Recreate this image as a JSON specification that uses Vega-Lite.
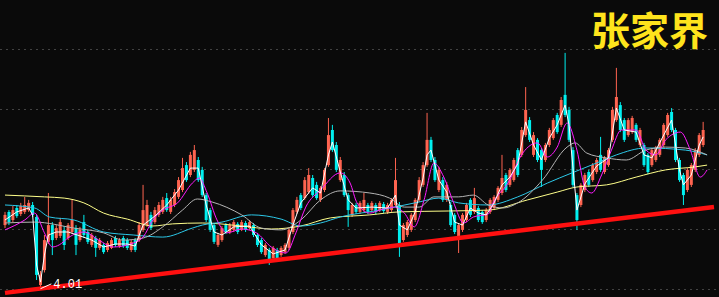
{
"$schema": "https://vega.github.io/schema/vega-lite/v6.json",
"width": 719, "height": 297, "padding": 0, "autosize": {"type": "none"},
"background": "#0a0a0a",
"config": {"view": {"stroke": null}},
"title": {"text": "张家界", "anchor": "end", "frame": "group", "orient": "top", "offset": 0, "font": "Noto Sans CJK SC", "fontSize": 39, "fontWeight": "bold", "color": "#ffe41c", "dx": -11, "dy": 92, "baseline": "bottom"},
"datasets": {
"candles": [
{"i":0,"o":6.13,"h":6.57,"l":6.03,"c":6.47},{"i":1,"o":6.57,"h":6.63,"l":6.13,"c":6.23},{"i":2,"o":6.30,"h":6.77,"l":6.23,"c":6.63},{"i":3,"o":6.70,"h":6.80,"l":6.37,"c":6.43},{"i":4,"o":6.50,"h":6.87,"l":6.43,"c":6.77},{"i":5,"o":6.57,"h":7.07,"l":6.50,"c":6.80},{"i":6,"o":6.63,"h":6.97,"l":6.57,"c":6.87},{"i":7,"o":6.80,"h":6.90,"l":6.40,"c":6.47},{"i":8,"o":6.40,"h":6.47,"l":4.30,"c":4.47},{"i":9,"o":4.13,"h":4.60,"l":4.01,"c":4.47},
{"i":10,"o":4.63,"h":5.80,"l":4.55,"c":5.63},{"i":11,"o":5.57,"h":7.20,"l":5.50,"c":6.13},{"i":12,"o":6.13,"h":6.23,"l":5.13,"c":5.63},{"i":13,"o":5.70,"h":6.13,"l":5.63,"c":6.03},{"i":14,"o":5.77,"h":6.37,"l":5.70,"c":6.23},{"i":15,"o":5.97,"h":6.10,"l":5.30,"c":5.47},{"i":16,"o":5.70,"h":6.20,"l":5.63,"c":6.13},{"i":17,"o":5.90,"h":6.97,"l":5.83,"c":6.30},{"i":18,"o":6.03,"h":6.13,"l":5.13,"c":5.47},{"i":19,"o":5.63,"h":6.07,"l":5.57,"c":5.97},
{"i":20,"o":6.23,"h":6.47,"l":5.70,"c":5.80},{"i":21,"o":5.90,"h":5.97,"l":5.50,"c":5.57},{"i":22,"o":5.47,"h":5.87,"l":5.40,"c":5.80},{"i":23,"o":5.70,"h":5.77,"l":5.07,"c":5.37},{"i":24,"o":5.37,"h":5.70,"l":5.30,"c":5.63},{"i":25,"o":5.47,"h":5.53,"l":5.17,"c":5.23},{"i":26,"o":5.30,"h":5.60,"l":5.23,"c":5.53},{"i":27,"o":5.37,"h":5.70,"l":5.33,"c":5.63},{"i":28,"o":5.70,"h":5.77,"l":5.40,"c":5.47},{"i":29,"o":5.43,"h":5.70,"l":5.37,"c":5.63},
{"i":30,"o":5.70,"h":5.77,"l":5.37,"c":5.43},{"i":31,"o":5.63,"h":5.70,"l":5.30,"c":5.37},{"i":32,"o":5.30,"h":5.63,"l":5.23,"c":5.57},{"i":33,"o":5.63,"h":5.70,"l":5.23,"c":5.30},{"i":34,"o":5.63,"h":6.23,"l":5.57,"c":6.13},{"i":35,"o":5.97,"h":7.47,"l":5.90,"c":6.63},{"i":36,"o":6.13,"h":6.97,"l":6.07,"c":6.80},{"i":37,"o":6.47,"h":6.57,"l":5.97,"c":6.03},{"i":38,"o":6.23,"h":6.73,"l":6.17,"c":6.63},{"i":39,"o":6.47,"h":6.90,"l":6.40,"c":6.80},
{"i":40,"o":6.57,"h":7.07,"l":6.50,"c":6.97},{"i":41,"o":7.03,"h":7.20,"l":6.57,"c":6.63},{"i":42,"o":6.57,"h":7.07,"l":6.50,"c":6.97},{"i":43,"o":6.80,"h":7.33,"l":6.73,"c":7.23},{"i":44,"o":7.07,"h":7.73,"l":7.00,"c":7.63},{"i":45,"o":7.30,"h":8.37,"l":7.23,"c":8.03},{"i":46,"o":8.13,"h":8.23,"l":7.57,"c":7.63},{"i":47,"o":7.80,"h":8.57,"l":7.73,"c":8.47},{"i":48,"o":7.97,"h":8.80,"l":7.90,"c":8.63},{"i":49,"o":8.30,"h":8.40,"l":7.57,"c":7.63},
{"i":50,"o":7.97,"h":8.07,"l":7.07,"c":7.13},{"i":51,"o":7.13,"h":7.20,"l":6.23,"c":6.30},{"i":52,"o":6.63,"h":6.70,"l":5.90,"c":5.97},{"i":53,"o":6.13,"h":6.20,"l":5.50,"c":5.57},{"i":54,"o":5.47,"h":5.87,"l":5.40,"c":5.80},{"i":55,"o":5.63,"h":6.10,"l":5.57,"c":6.03},{"i":56,"o":6.13,"h":6.20,"l":5.83,"c":5.90},{"i":57,"o":5.90,"h":6.20,"l":5.83,"c":6.13},{"i":58,"o":5.97,"h":6.30,"l":5.90,"c":6.23},{"i":59,"o":6.17,"h":6.23,"l":5.83,"c":5.90},
{"i":60,"o":5.97,"h":6.30,"l":5.93,"c":6.23},{"i":61,"o":6.20,"h":6.27,"l":5.90,"c":5.97},{"i":62,"o":6.03,"h":6.30,"l":5.97,"c":6.23},{"i":63,"o":6.13,"h":6.20,"l":5.73,"c":5.80},{"i":64,"o":5.80,"h":5.87,"l":5.40,"c":5.47},{"i":65,"o":5.63,"h":5.70,"l":5.17,"c":5.23},{"i":66,"o":5.13,"h":5.53,"l":5.07,"c":5.47},{"i":67,"o":5.30,"h":5.37,"l":4.80,"c":4.90},{"i":68,"o":5.03,"h":5.43,"l":4.97,"c":5.37},{"i":69,"o":5.30,"h":5.37,"l":4.97,"c":5.03},
{"i":70,"o":5.13,"h":5.43,"l":5.07,"c":5.37},{"i":71,"o":5.23,"h":5.53,"l":5.17,"c":5.47},{"i":72,"o":5.37,"h":6.03,"l":5.30,"c":5.97},{"i":73,"o":5.90,"h":6.70,"l":5.83,"c":6.63},{"i":74,"o":6.57,"h":7.07,"l":6.50,"c":6.97},{"i":75,"o":7.13,"h":7.20,"l":6.63,"c":6.70},{"i":76,"o":7.03,"h":7.73,"l":6.97,"c":7.63},{"i":77,"o":7.23,"h":8.03,"l":7.17,"c":7.80},{"i":78,"o":7.70,"h":7.80,"l":7.07,"c":7.13},{"i":79,"o":7.47,"h":7.57,"l":6.97,"c":7.03},
{"i":80,"o":6.97,"h":7.43,"l":6.90,"c":7.37},{"i":81,"o":7.30,"h":8.03,"l":7.23,"c":7.97},{"i":82,"o":8.13,"h":9.70,"l":8.07,"c":9.13},{"i":83,"o":9.30,"h":9.47,"l":8.57,"c":8.63},{"i":84,"o":8.80,"h":8.90,"l":7.90,"c":7.97},{"i":85,"o":7.63,"h":8.40,"l":7.57,"c":8.30},{"i":86,"o":7.80,"h":7.90,"l":7.07,"c":7.13},{"i":87,"o":7.13,"h":7.20,"l":6.07,"c":6.63},{"i":88,"o":6.47,"h":6.87,"l":6.40,"c":6.80},{"i":89,"o":6.80,"h":6.87,"l":6.50,"c":6.57},
{"i":90,"o":6.57,"h":6.93,"l":6.50,"c":6.87},{"i":91,"o":6.63,"h":7.20,"l":6.57,"c":6.97},{"i":92,"o":6.80,"h":6.87,"l":6.50,"c":6.57},{"i":93,"o":6.63,"h":6.93,"l":6.57,"c":6.87},{"i":94,"o":6.80,"h":6.87,"l":6.50,"c":6.57},{"i":95,"o":6.63,"h":6.93,"l":6.57,"c":6.87},{"i":96,"o":6.83,"h":6.90,"l":6.53,"c":6.60},{"i":97,"o":6.57,"h":6.87,"l":6.50,"c":6.80},{"i":98,"o":6.63,"h":7.03,"l":6.57,"c":6.97},{"i":99,"o":6.80,"h":8.37,"l":6.73,"c":7.63},
{"i":100,"o":6.80,"h":6.90,"l":5.07,"c":5.47},{"i":101,"o":5.63,"h":6.20,"l":5.57,"c":6.13},{"i":102,"o":5.80,"h":6.30,"l":5.73,"c":6.23},{"i":103,"o":5.97,"h":6.53,"l":5.90,"c":6.47},{"i":104,"o":6.30,"h":7.03,"l":6.23,"c":6.97},{"i":105,"o":6.97,"h":7.73,"l":6.90,"c":7.63},{"i":106,"o":7.47,"h":8.23,"l":7.40,"c":8.13},{"i":107,"o":8.13,"h":9.87,"l":8.07,"c":8.97},{"i":108,"o":8.97,"h":9.07,"l":8.23,"c":8.30},{"i":109,"o":8.30,"h":8.40,"l":7.57,"c":7.63},
{"i":110,"o":7.30,"h":8.07,"l":7.23,"c":7.97},{"i":111,"o":7.63,"h":7.73,"l":6.90,"c":6.97},{"i":112,"o":6.97,"h":7.57,"l":6.90,"c":7.47},{"i":113,"o":6.80,"h":6.90,"l":6.07,"c":6.13},{"i":114,"o":6.47,"h":6.53,"l":5.83,"c":5.90},{"i":115,"o":5.73,"h":6.20,"l":5.20,"c":6.13},{"i":116,"o":5.97,"h":6.53,"l":5.90,"c":6.47},{"i":117,"o":6.30,"h":6.87,"l":6.23,"c":6.80},{"i":118,"o":6.97,"h":7.03,"l":6.40,"c":6.47},{"i":119,"o":6.57,"h":7.37,"l":6.50,"c":7.03},
{"i":120,"o":6.70,"h":6.77,"l":6.23,"c":6.30},{"i":121,"o":6.57,"h":6.63,"l":6.17,"c":6.23},{"i":122,"o":6.30,"h":6.70,"l":6.23,"c":6.63},{"i":123,"o":6.57,"h":7.03,"l":6.50,"c":6.97},{"i":124,"o":6.70,"h":7.13,"l":6.63,"c":7.07},{"i":125,"o":6.97,"h":7.43,"l":6.90,"c":7.37},{"i":126,"o":7.20,"h":8.47,"l":7.13,"c":7.70},{"i":127,"o":7.80,"h":7.87,"l":7.23,"c":7.30},{"i":128,"o":7.47,"h":8.03,"l":7.40,"c":7.97},{"i":129,"o":7.63,"h":8.37,"l":7.57,"c":8.30},
{"i":130,"o":8.63,"h":8.70,"l":7.73,"c":7.80},{"i":131,"o":8.47,"h":9.40,"l":8.40,"c":9.30},{"i":132,"o":9.13,"h":10.73,"l":9.07,"c":9.97},{"i":133,"o":9.63,"h":9.73,"l":8.90,"c":8.97},{"i":134,"o":8.47,"h":9.23,"l":8.40,"c":9.13},{"i":135,"o":8.97,"h":9.03,"l":8.23,"c":8.30},{"i":136,"o":8.63,"h":8.70,"l":7.40,"c":7.97},{"i":137,"o":8.30,"h":8.87,"l":8.23,"c":8.80},{"i":138,"o":8.80,"h":9.37,"l":8.73,"c":9.30},{"i":139,"o":9.03,"h":9.70,"l":8.97,"c":9.63},
{"i":140,"o":9.80,"h":9.87,"l":9.17,"c":9.23},{"i":141,"o":9.47,"h":10.40,"l":9.40,"c":10.30},{"i":142,"o":10.47,"h":11.87,"l":9.73,"c":9.80},{"i":143,"o":9.97,"h":10.07,"l":8.90,"c":8.97},{"i":144,"o":8.63,"h":8.73,"l":7.40,"c":7.47},{"i":145,"o":7.13,"h":7.20,"l":5.97,"c":6.30},{"i":146,"o":6.80,"h":7.53,"l":6.73,"c":7.47},{"i":147,"o":7.30,"h":7.87,"l":7.23,"c":7.80},{"i":148,"o":7.90,"h":7.97,"l":7.40,"c":7.47},{"i":149,"o":7.63,"h":8.20,"l":7.57,"c":8.13},
{"i":150,"o":7.90,"h":8.37,"l":7.83,"c":8.30},{"i":151,"o":8.47,"h":9.07,"l":7.90,"c":7.97},{"i":152,"o":7.90,"h":8.43,"l":7.83,"c":8.37},{"i":153,"o":8.13,"h":8.70,"l":8.07,"c":8.63},{"i":154,"o":8.97,"h":10.07,"l":8.90,"c":9.97},{"i":155,"o":9.63,"h":11.37,"l":9.57,"c":10.40},{"i":156,"o":10.13,"h":10.23,"l":9.23,"c":9.30},{"i":157,"o":9.63,"h":9.70,"l":8.90,"c":8.97},{"i":158,"o":9.13,"h":9.70,"l":9.07,"c":9.63},{"i":159,"o":9.23,"h":9.77,"l":9.17,"c":9.70},
{"i":160,"o":9.47,"h":9.53,"l":8.90,"c":8.97},{"i":161,"o":8.80,"h":9.37,"l":8.73,"c":9.30},{"i":162,"o":8.80,"h":8.87,"l":8.07,"c":8.13},{"i":163,"o":8.47,"h":8.53,"l":7.83,"c":7.90},{"i":164,"o":8.13,"h":8.70,"l":8.07,"c":8.63},{"i":165,"o":8.30,"h":8.77,"l":8.23,"c":8.70},{"i":166,"o":8.47,"h":9.03,"l":8.40,"c":8.97},{"i":167,"o":8.80,"h":9.53,"l":8.73,"c":9.47},{"i":168,"o":9.13,"h":9.87,"l":9.07,"c":9.80},{"i":169,"o":9.90,"h":10.03,"l":9.23,"c":9.30},
{"i":170,"o":9.30,"h":9.37,"l":8.23,"c":8.30},{"i":171,"o":8.30,"h":8.37,"l":7.57,"c":7.63},{"i":172,"o":7.80,"h":7.87,"l":6.80,"c":7.13},{"i":173,"o":7.30,"h":8.03,"l":7.23,"c":7.97},{"i":174,"o":7.47,"h":8.20,"l":7.40,"c":8.13},{"i":175,"o":7.97,"h":8.70,"l":7.90,"c":8.63},{"i":176,"o":8.47,"h":9.20,"l":8.40,"c":9.13},{"i":177,"o":8.80,"h":9.57,"l":8.73,"c":9.30}
],
"ma120": [
{"i":0,"v":7.13},{"i":10,"v":7.07},{"i":15,"v":7.03},{"i":20,"v":6.87},{"i":25,"v":6.53},{"i":31,"v":6.33},{"i":37.5,"v":6.10},{"i":42.5,"v":6.17},{"i":50,"v":6.20},{"i":60,"v":6.10},{"i":67.5,"v":6.00},{"i":75,"v":6.10},{"i":82.5,"v":6.37},{"i":92.5,"v":6.47},{"i":100,"v":6.57},{"i":112.5,"v":6.60},{"i":122.5,"v":6.63},{"i":132.5,"v":6.97},{"i":140,"v":7.23},{"i":145,"v":7.40},{"i":152.5,"v":7.47},{"i":160,"v":7.73},{"i":167.5,"v":7.97},{"i":175,"v":8.07},{"i":178,"v":8.13}
],
"ma60": [
{"i":0,"v":6.80},{"i":7.5,"v":6.70},{"i":11.25,"v":6.40},{"i":17.5,"v":6.30},{"i":25,"v":5.90},{"i":32.5,"v":5.80},{"i":40,"v":5.73},{"i":47.5,"v":6.03},{"i":50,"v":6.13},{"i":55,"v":6.23},{"i":62.5,"v":6.47},{"i":70,"v":6.33},{"i":75,"v":6.10},{"i":80,"v":6.20},{"i":85,"v":6.40},{"i":95,"v":6.63},{"i":105,"v":6.90},{"i":110,"v":7.03},{"i":115,"v":6.87},{"i":122.5,"v":6.80},{"i":130,"v":7.07},{"i":137.5,"v":7.53},{"i":143.75,"v":7.87},{"i":150,"v":8.20},{"i":155,"v":8.47},{"i":162.5,"v":8.70},{"i":172.5,"v":8.63},{"i":178,"v":8.47}
],
"ma20": [
{"i":0,"v":6.20},{"i":7.5,"v":6.23},{"i":17.5,"v":6.03},{"i":25,"v":5.87},{"i":30,"v":5.63},{"i":35,"v":5.70},{"i":40,"v":6.07},{"i":45,"v":6.63},{"i":48.75,"v":7.00},{"i":52.5,"v":6.90},{"i":60,"v":6.47},{"i":65,"v":6.03},{"i":70,"v":5.97},{"i":75,"v":6.30},{"i":80,"v":6.97},{"i":85,"v":7.27},{"i":92.5,"v":7.20},{"i":97.5,"v":7.03},{"i":101.25,"v":6.73},{"i":105,"v":6.73},{"i":108.75,"v":7.07},{"i":115,"v":7.07},{"i":118.75,"v":7.13},{"i":122.5,"v":6.80},{"i":126.25,"v":6.70},{"i":130,"v":6.87},{"i":136.25,"v":7.63},{"i":142.5,"v":8.73},{"i":144.5,"v":8.87},{"i":147.5,"v":8.53},{"i":152.5,"v":8.37},{"i":157.5,"v":8.30},{"i":162.5,"v":8.63},{"i":167.5,"v":8.73},{"i":172.5,"v":8.70},{"i":178,"v":8.47}
],
"ma10": [
{"i":0,"v":5.97},{"i":5,"v":6.30},{"i":7.5,"v":6.53},{"i":10,"v":5.87},{"i":12,"v":5.40},{"i":13.75,"v":5.47},{"i":16.25,"v":5.73},{"i":20,"v":5.90},{"i":23.75,"v":5.63},{"i":27.5,"v":5.40},{"i":32.5,"v":5.53},{"i":35,"v":5.73},{"i":37.5,"v":6.30},{"i":40,"v":6.63},{"i":43.75,"v":6.87},{"i":47.5,"v":7.53},{"i":49.25,"v":7.70},{"i":51.25,"v":7.20},{"i":53.75,"v":6.30},{"i":56.25,"v":5.87},{"i":60,"v":6.00},{"i":63.75,"v":5.87},{"i":67.5,"v":5.40},{"i":71.25,"v":5.20},{"i":73.75,"v":5.87},{"i":76.25,"v":6.73},{"i":80,"v":7.30},{"i":85,"v":7.87},{"i":87.5,"v":7.53},{"i":89.25,"v":6.87},{"i":92.5,"v":6.53},{"i":95,"v":6.63},{"i":98.75,"v":6.73},{"i":101.25,"v":6.53},{"i":103.75,"v":6.07},{"i":106.25,"v":6.97},{"i":108.75,"v":8.20},{"i":111.25,"v":7.73},{"i":113.75,"v":6.87},{"i":116.25,"v":6.20},{"i":118.75,"v":6.40},{"i":122.5,"v":6.50},{"i":123.75,"v":6.87},{"i":127.5,"v":7.53},{"i":131.25,"v":8.53},{"i":135,"v":8.87},{"i":137.5,"v":8.40},{"i":140,"v":8.73},{"i":142.5,"v":9.53},{"i":145,"v":8.63},{"i":147,"v":7.40},{"i":148.75,"v":7.20},{"i":151.25,"v":7.80},{"i":153.75,"v":8.63},{"i":156.25,"v":9.30},{"i":160,"v":9.30},{"i":162.5,"v":8.63},{"i":165,"v":8.47},{"i":167.5,"v":8.97},{"i":171.25,"v":9.23},{"i":173.75,"v":8.63},{"i":176.25,"v":7.73},{"i":178,"v":7.97}
],
"ma5": [
{"i":0,"v":6.30},{"i":3,"v":6.57},{"i":6,"v":6.70},{"i":7,"v":6.47},{"i":8,"v":4.80},{"i":9,"v":4.23},{"i":10,"v":5.13},{"i":11,"v":5.80},{"i":13,"v":5.90},{"i":16,"v":5.90},{"i":19,"v":5.77},{"i":22,"v":5.63},{"i":25,"v":5.40},{"i":28,"v":5.50},{"i":31,"v":5.50},{"i":33,"v":5.43},{"i":35,"v":6.13},{"i":38,"v":6.43},{"i":41,"v":6.80},{"i":44,"v":7.30},{"i":47,"v":8.03},{"i":49,"v":8.03},{"i":51,"v":6.80},{"i":53,"v":5.90},{"i":55,"v":5.80},{"i":58,"v":6.07},{"i":62,"v":6.10},{"i":65,"v":5.47},{"i":68,"v":5.17},{"i":71,"v":5.30},{"i":73,"v":6.13},{"i":75,"v":6.87},{"i":78,"v":7.37},{"i":80,"v":7.20},{"i":82,"v":8.47},{"i":83,"v":8.90},{"i":85,"v":7.90},{"i":87,"v":6.97},{"i":89,"v":6.70},{"i":93,"v":6.73},{"i":97,"v":6.70},{"i":99,"v":7.13},{"i":100,"v":6.13},{"i":102,"v":5.97},{"i":104,"v":6.57},{"i":106,"v":7.70},{"i":107,"v":8.47},{"i":108,"v":8.63},{"i":110,"v":7.63},{"i":112,"v":7.23},{"i":114,"v":6.23},{"i":116,"v":6.13},{"i":118,"v":6.70},{"i":120,"v":6.53},{"i":122,"v":6.47},{"i":124,"v":6.87},{"i":126,"v":7.47},{"i":128,"v":7.73},{"i":130,"v":8.17},{"i":132,"v":9.57},{"i":134,"v":8.80},{"i":136,"v":8.30},{"i":138,"v":9.03},{"i":140,"v":9.47},{"i":142,"v":10.13},{"i":143,"v":9.47},{"i":144,"v":8.03},{"i":145,"v":6.63},{"i":147,"v":7.50},{"i":150,"v":8.10},{"i":153,"v":8.37},{"i":155,"v":10.03},{"i":157,"v":9.30},{"i":160,"v":9.23},{"i":162,"v":8.47},{"i":164,"v":8.37},{"i":167,"v":9.13},{"i":169,"v":9.63},{"i":171,"v":7.97},{"i":172,"v":7.47},{"i":174,"v":7.80},{"i":176,"v":8.80},{"i":177,"v":9.07}
],
"trend": [{"i":0,"p":3.87},{"i":179.75,"p":6.73}],
"low": [{"i":9,"p":4.01,"i2":11.75,"p2":4.17,"t":"4.01"}]
},
"encoding": {"x": {"field": "i", "type": "quantitative", "scale": {"domain": [0, 179.75], "nice": false, "zero": false}, "axis": null}},
"layer": [
{"data": {"name": "candles"}, "mark": {"type": "rule", "strokeWidth": 1},
 "encoding": {
  "y": {"field": "l", "type": "quantitative", "title": null, "scale": {"domain": [3.733, 13.633], "nice": false, "zero": false},
        "axis": {"values": [4, 6, 8, 10, 12], "labels": false, "ticks": false, "domain": false, "grid": true, "gridColor": "#7a7a7a", "gridDash": [1, 5], "gridWidth": 1}},
  "y2": {"field": "h"},
  "color": {"condition": {"test": "datum.c >= datum.o", "value": "#ff6450"}, "value": "#00f0f0"}}},
{"data": {"name": "candles"}, "mark": {"type": "bar", "size": 3},
 "encoding": {
  "y": {"field": "o", "type": "quantitative", "title": null},
  "y2": {"field": "c"},
  "color": {"condition": {"test": "datum.c >= datum.o", "value": "#ff6450"}, "value": "#00f0f0"}}},
{"data": {"name": "ma120"}, "mark": {"type": "line", "color": "#ffff8a", "strokeWidth": 1, "interpolate": "monotone"},
 "encoding": {"y": {"field": "v", "type": "quantitative", "title": null}}},
{"data": {"name": "ma60"}, "mark": {"type": "line", "color": "#2cc8e8", "strokeWidth": 1, "interpolate": "monotone"},
 "encoding": {"y": {"field": "v", "type": "quantitative", "title": null}}},
{"data": {"name": "ma20"}, "mark": {"type": "line", "color": "#b4b4b4", "strokeWidth": 1, "interpolate": "monotone"},
 "encoding": {"y": {"field": "v", "type": "quantitative", "title": null}}},
{"data": {"name": "ma10"}, "mark": {"type": "line", "color": "#ff1aff", "strokeWidth": 1, "interpolate": "monotone"},
 "encoding": {"y": {"field": "v", "type": "quantitative", "title": null}}},
{"data": {"name": "ma5"}, "mark": {"type": "line", "color": "#ffffff", "strokeWidth": 1},
 "encoding": {"y": {"field": "v", "type": "quantitative", "title": null}}},
{"data": {"name": "trend"}, "mark": {"type": "line", "color": "#ff1010", "strokeWidth": 4.5},
 "encoding": {"y": {"field": "p", "type": "quantitative", "title": null}}},
{"data": {"name": "low"}, "mark": {"type": "rule", "color": "#ffffff", "strokeWidth": 1},
 "encoding": {"y": {"field": "p", "type": "quantitative", "title": null}, "x2": {"field": "i2"}, "y2": {"field": "p2"}}},
{"data": {"name": "low"}, "mark": {"type": "text", "color": "#ffffff", "font": "Liberation Mono", "fontSize": 12, "align": "left", "baseline": "middle", "dx": 2},
 "encoding": {"x": {"field": "i2", "type": "quantitative"}, "y": {"field": "p2", "type": "quantitative", "title": null}, "text": {"field": "t"}}}
]
}
